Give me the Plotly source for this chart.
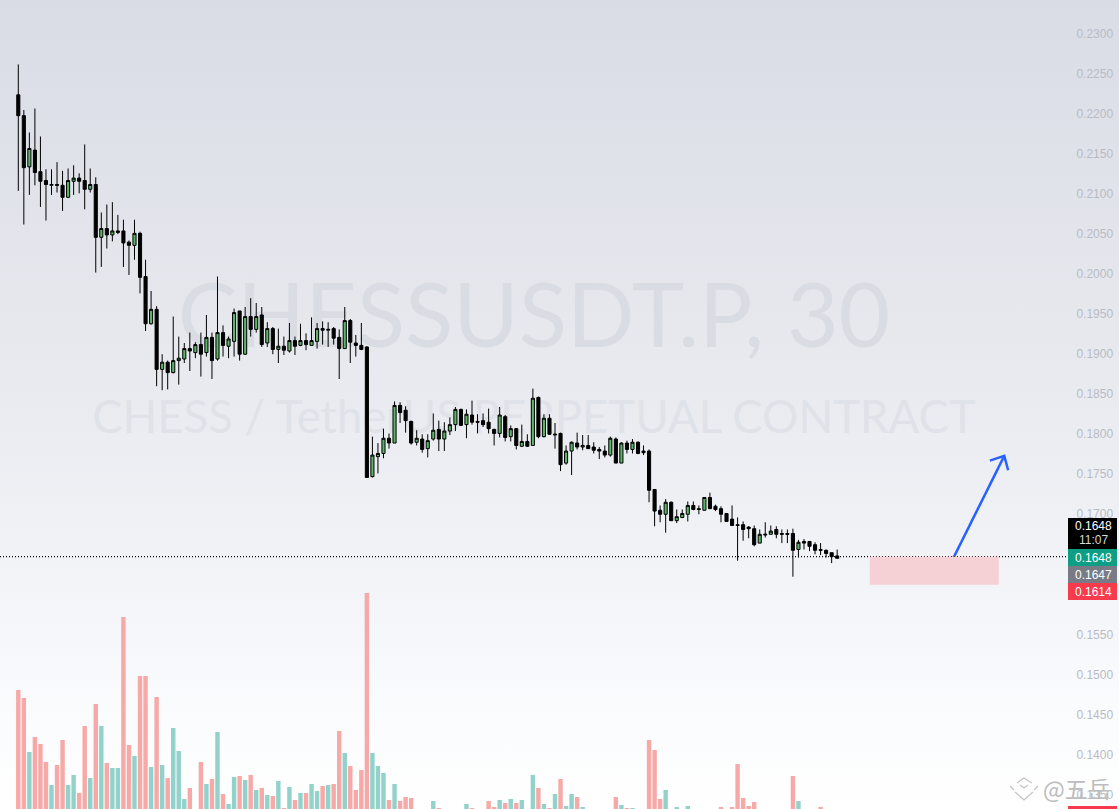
"""CHESSUSDT.P 30m candles with volume, rebuilt from a chart screenshot."""

import base64

import numpy as np
import plotly.graph_objects as go

# Prices in exchange ticks of 0.0001
TICK = 0.0001
opens = [
    2224, 2198, 2134, 2155, 2128, 2117, 2111, 2112, 2111, 2096,
    2116, 2120, 2117, 2106, 2112, 2046, 2057, 2049, 2052, 2054,
    2040, 2036, 2051, 1997, 1938, 1956, 1881, 1890, 1877, 1892,
    1894, 1907, 1902, 1912, 1902, 1921, 1894, 1927, 1910, 1916,
    1954, 1900, 1947, 1931, 1949, 1914, 1932, 1906, 1910, 1904,
    1917, 1911, 1917, 1911, 1916, 1932, 1930, 1932, 1921, 1907,
    1942, 1914, 1911, 1909, 1747, 1772, 1776, 1795, 1789, 1836,
    1830, 1816, 1790, 1794, 1782, 1794, 1806, 1794, 1804, 1812,
    1831, 1812, 1824, 1816, 1817, 1815, 1806, 1801, 1822, 1797,
    1807, 1785, 1791, 1786, 1846, 1797, 1820, 1799, 1801, 1764,
    1779, 1789, 1784, 1786, 1784, 1781, 1779, 1774, 1794, 1764,
    1789, 1781, 1790, 1779, 1779, 1731, 1705, 1700, 1715, 1692,
    1696, 1700, 1711, 1707, 1705, 1721, 1710, 1707, 1701, 1694,
    1687, 1687, 1684, 1682, 1664, 1674, 1675, 1681, 1676, 1676,
    1676, 1656, 1666, 1666, 1662, 1656, 1655, 1652, 1648,
]
highs = [
    2262, 2205, 2177, 2207, 2172, 2131, 2131, 2140, 2129, 2132,
    2136, 2126, 2162, 2132, 2121, 2077, 2087, 2090, 2074, 2068,
    2042, 2068, 2053, 2018, 1979, 1960, 1900, 1892, 1947, 1922,
    1914, 1927, 1915, 1927, 1949, 1927, 1997, 1936, 1922, 1957,
    1954, 1959, 1970, 1964, 1959, 1940, 1934, 1932, 1922, 1939,
    1922, 1938, 1926, 1946, 1939, 1941, 1940, 1934, 1931, 1959,
    1944, 1924, 1939, 1910, 1797, 1789, 1807, 1801, 1841, 1840,
    1835, 1817, 1805, 1800, 1800, 1826, 1817, 1815, 1821, 1834,
    1832, 1831, 1842, 1825, 1826, 1832, 1807, 1834, 1824, 1811,
    1807, 1812, 1800, 1857, 1847, 1825, 1825, 1814, 1802, 1786,
    1791, 1802, 1799, 1799, 1790, 1784, 1786, 1797, 1796, 1790,
    1792, 1794, 1791, 1786, 1781, 1731, 1711, 1719, 1716, 1706,
    1706, 1716, 1716, 1711, 1721, 1727, 1712, 1710, 1701, 1711,
    1696, 1691, 1685, 1686, 1681, 1690, 1686, 1685, 1681, 1681,
    1682, 1668, 1669, 1666, 1665, 1664, 1656, 1652, 1656,
]
lows = [
    2104, 2062, 2099, 2111, 2084, 2067, 2099, 2102, 2079, 2095,
    2099, 2101, 2081, 2102, 2002, 2009, 2032, 2041, 2050, 2009,
    1999, 2018, 1976, 1929, 1937, 1860, 1855, 1856, 1876, 1862,
    1889, 1879, 1895, 1872, 1897, 1869, 1892, 1897, 1895, 1897,
    1892, 1899, 1922, 1927, 1909, 1909, 1900, 1889, 1899, 1902,
    1899, 1910, 1905, 1911, 1907, 1912, 1909, 1912, 1869, 1907,
    1889, 1897, 1905, 1746, 1746, 1751, 1770, 1782, 1789, 1814,
    1802, 1787, 1786, 1777, 1771, 1792, 1779, 1779, 1799, 1804,
    1811, 1795, 1812, 1801, 1809, 1801, 1786, 1796, 1791, 1791,
    1781, 1784, 1784, 1786, 1795, 1796, 1799, 1782, 1754, 1762,
    1749, 1781, 1780, 1782, 1776, 1769, 1771, 1772, 1764, 1764,
    1776, 1776, 1775, 1774, 1715, 1685, 1690, 1677, 1692, 1689,
    1695, 1691, 1705, 1700, 1705, 1707, 1704, 1690, 1691, 1686,
    1642, 1667, 1670, 1660, 1664, 1671, 1675, 1670, 1664, 1664,
    1622, 1646, 1656, 1654, 1650, 1649, 1646, 1639, 1645,
]
closes = [
    2198, 2133, 2157, 2127, 2116, 2112, 2112, 2111, 2096, 2117,
    2120, 2116, 2106, 2112, 2046, 2057, 2049, 2054, 2054, 2039,
    2036, 2051, 1996, 1938, 1956, 1881, 1890, 1877, 1892, 1895,
    1907, 1904, 1912, 1900, 1921, 1892, 1927, 1911, 1919, 1952,
    1900, 1947, 1931, 1947, 1912, 1932, 1906, 1910, 1905, 1917,
    1910, 1917, 1912, 1917, 1932, 1930, 1931, 1920, 1907, 1942,
    1915, 1911, 1906, 1746, 1774, 1776, 1795, 1789, 1836, 1827,
    1817, 1789, 1795, 1781, 1792, 1805, 1794, 1804, 1812, 1831,
    1811, 1825, 1815, 1815, 1812, 1807, 1801, 1824, 1796, 1807,
    1786, 1791, 1785, 1845, 1797, 1820, 1800, 1800, 1762, 1779,
    1790, 1784, 1786, 1782, 1780, 1779, 1774, 1795, 1764, 1789,
    1781, 1790, 1776, 1777, 1730, 1704, 1700, 1715, 1692, 1697,
    1701, 1711, 1706, 1706, 1721, 1707, 1706, 1700, 1691, 1686,
    1686, 1681, 1682, 1662, 1675, 1675, 1679, 1675, 1675, 1675,
    1655, 1665, 1664, 1660, 1655, 1655, 1651, 1647, 1645,
]
volumes = [
    120, 112, 58, 73, 66, 48, 25, 45, 70, 25,
    35, 17, 84, 32, 106, 84, 47, 42, 42, 193,
    65, 54, 134, 134, 43, 113, 45, 32, 82, 59,
    11, 22, 0, 48, 26, 31, 78, 16, 6, 33,
    34, 30, 35, 20, 22, 15, 14, 29, 2, 23,
    10, 17, 17, 26, 19, 24, 25, 26, 79, 57,
    44, 20, 40, 217, 57, 44, 37, 10, 26, 9,
    13, 12, 0, 0, 0, 9, 2, 0, 0, 0,
    0, 6, 2, 0, 0, 9, 3, 10, 7, 11,
    7, 10, 0, 35, 22, 6, 2, 16, 31, 4,
    16, 13, 3, 0, 0, 0, 0, 0, 13, 5,
    2, 2, 0, 0, 70, 60, 11, 20, 0, 3,
    0, 4, 0, 0, 0, 0, 0, 3, 0, 3,
    46, 12, 4, 8, 0, 0, 0, 0, 0, 0,
    34, 9, 0, 0, 0, 3, 0, 0, 0,
]
# 0.1650 and 0.1600 are hidden behind the price labels in the reference
price_ticks = [
    0.2300, 0.2250, 0.2200, 0.2150, 0.2100, 0.2050, 0.2000, 0.1950, 0.1900, 0.1850,
    0.1800, 0.1750, 0.1700, 0.1550, 0.1500, 0.1450, 0.1400, 0.1350,
]
price_tick_labels = [f"{p:.4f}" for p in price_ticks]
last_price = 0.1647
stop_zone = [0.1647, 0.1612]
stop_zone_bars = [153.9, 177.2]
arrow_bars = [168.9, 178.2]
arrow_prices = [0.1644, 0.1773]
arrow_head_bars = [175.6, 178.2, 178.9]
arrow_head_prices = [0.1767, 0.1773, 0.1755]

W, H = 1119, 809
SCALE_X = 1068  # where the price scale starts
BG_STOPS = [(0, "#d9dce5"), (0.5, "#eaebf0"), (0.72, "#f3f4f8"), (0.87, "#fafbfd"), (1, "#ffffff")]
RED, TEAL = "#f7a9a7", "#92d2cb"


def background_uri() -> str:
    """Vertical gradient as an svg data uri, for a layout image."""
    stops = "".join(f'<stop offset="{o}" stop-color="{c}"/>' for o, c in BG_STOPS)
    svg = (
        f'<svg xmlns="http://www.w3.org/2000/svg" width="{W}" height="{H}">'
        f'<defs><linearGradient id="g" x1="0" y1="0" x2="0" y2="1">{stops}</linearGradient></defs>'
        f'<rect width="{W}" height="{H}" fill="url(#g)"/></svg>'
    )
    return "data:image/svg+xml;base64," + base64.b64encode(svg.encode()).decode()


bars = np.arange(len(opens))
o, h, l, c = (np.array(a) * TICK for a in (opens, highs, lows, closes))
vol_colors = [TEAL if b >= a else RED for a, b in zip(opens, closes)]

fig = go.Figure()

# base layer: pixel axes for the watermark, drawn first so the candles sit over it
fig.add_trace(go.Scatter(
    x=[534, 534], y=[325, 421.5],
    mode="text",
    text=["CHESSUSDT.P, 30", "CHESS / TetherUS PERPETUAL CONTRACT"],
    textfont={"family": "Lato", "size": [89, 45.5], "color": ["#d9dce3", "#e0e2e9"]},
    xaxis="x", yaxis="y", hoverinfo="skip",
))
fig.add_trace(go.Bar(
    x=bars, y=volumes, marker={"color": vol_colors, "line": {"width": 0}}, width=0.8,
    xaxis="x2", yaxis="y2", hoverinfo="skip",
))
fig.add_trace(go.Candlestick(
    x=bars, open=o, high=h, low=l, close=c,
    increasing={"fillcolor": "#5cb868", "line": {"color": "#000000", "width": 1}},
    decreasing={"fillcolor": "#000000", "line": {"color": "#000000", "width": 1}},
    xaxis="x3", yaxis="y3", hoverinfo="skip",
))
fig.add_trace(go.Scatter(
    x=arrow_bars + [None] + arrow_head_bars,
    y=arrow_prices + [None] + arrow_head_prices,
    mode="lines", line={"color": "#2962ff", "width": 2.5},
    xaxis="x3", yaxis="y3", hoverinfo="skip",
))

hidden = {"visible": False, "fixedrange": True}
x_range = [(0 - 18.3) / 5.533, (SCALE_X - 18.3) / 5.533]
scale_domain = [0, SCALE_X / W]
fig.update_layout(
    width=W, height=H,
    margin={"l": 0, "r": 0, "t": 0, "b": 0},
    showlegend=False,
    boxgap=0.2,
    paper_bgcolor="#ffffff", plot_bgcolor="rgba(0,0,0,0)",
    xaxis={**hidden, "domain": [0, 1], "range": [0, W]},
    yaxis={**hidden, "domain": [0, 1], "range": [H, 0]},
    xaxis2={**hidden, "domain": scale_domain, "range": x_range, "anchor": "y2"},
    yaxis2={**hidden, "domain": [0, 1], "range": [1, 810], "anchor": "x2"},
    xaxis3={**hidden, "domain": scale_domain, "range": x_range, "anchor": "y3", "rangeslider": {"visible": False}},
    yaxis3={
        "domain": [0, 1], "range": [0.13318, 0.23425], "anchor": "x3", "side": "right",
        "tickvals": price_ticks, "ticktext": price_tick_labels, "showgrid": False, "zeroline": False,
        "showline": False, "ticks": "outside", "ticklen": 5, "tickcolor": "rgba(0,0,0,0)",
        "tickfont": {"family": "Liberation Sans", "size": 12, "color": "#b8bbc6"}, "fixedrange": True,
    },
    images=[{
        "source": background_uri(), "xref": "paper", "yref": "paper", "x": 0, "y": 1,
        "sizex": 1, "sizey": 1, "xanchor": "left", "yanchor": "top", "sizing": "stretch", "layer": "below",
    }],
)

# last price line and the pink zone
fig.add_shape(
    type="line", xref="paper", yref="y3", x0=0, x1=SCALE_X / W, y0=last_price, y1=last_price,
    line={"color": "#000000", "width": 1.2, "dash": "1px,2px"},
)
fig.add_shape(
    type="rect", xref="x3", yref="y3", x0=stop_zone_bars[0], x1=stop_zone_bars[1],
    y0=stop_zone[0], y1=stop_zone[1], fillcolor="#f5d0d4", line={"width": 0},
)

# price labels on the scale, then the strip at the bottom edge
LABEL_ROWS = [
    (518, 549, "#000000"),
    (549, 566, "#0d9e84"),
    (566, 583, "#787b86"),
    (583, 600, "#f73b4d"),
    (806, 809, "#f73b4d"),
]
for top, bottom, color in LABEL_ROWS:
    fig.add_shape(
        type="rect", xref="x", yref="y", x0=SCALE_X, x1=1117, y0=top, y1=bottom,
        fillcolor=color, line={"width": 0},
    )
for y, text, color in [
    (526, "0.1648", "#ffffff"),
    (540, "11:07", "#d8d8d8"),
    (557.5, "0.1648", "#ffffff"),
    (574.5, "0.1647", "#ffffff"),
    (591.5, "0.1614", "#ffffff"),
]:
    fig.add_annotation(
        x=1093, y=y, xref="x", yref="y", text=text, showarrow=False,
        font={"family": "Liberation Sans", "size": 12, "color": color},
    )

# source mark, bottom right
for path in [
    "M1017,783 L1024,778 L1032,783",
    "M1020,785 L1024,788 L1028,785",
    "M1010,786 L1014,790",
    "M1038,786 L1034,790",
    "M1015,792 L1024,800 L1033,792",
]:
    fig.add_shape(type="path", xref="x", yref="y", path=path, line={"color": "#c4c4c4", "width": 1.2})
fig.add_annotation(
    x=1077, y=788, xref="x", yref="y", text="@五岳", showarrow=False,
    font={"family": "Noto Sans CJK SC", "size": 23, "color": "#bcbcbc"},
)

fig.write_html(
    "out.html",
    config={"displayModeBar": False},
    post_script="document.body.style.margin='0';document.body.style.overflow='hidden';",
)
